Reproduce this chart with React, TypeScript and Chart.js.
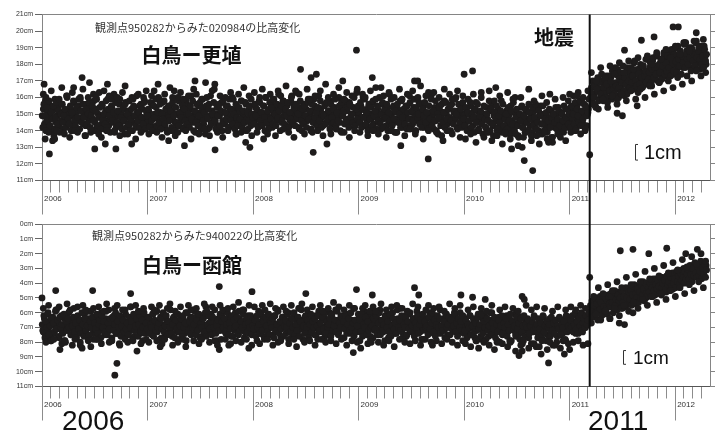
import React, { useEffect, useRef } from 'react';
import { Chart, registerables } from 'chart.js';

Chart.register(...registerables);

// ---------- axis definitions ----------
const X_MIN = 2006;
const X_MAX = 2012.33;
const QUAKE = 2011.19; // 2011-03-11
const YEAR_TICKS = [2006, 2007, 2008, 2009, 2010, 2011, 2012];
const MONTH_TICKS: number[] = [];
YEAR_TICKS.forEach((y) => {
  for (let m = 0; m < 12; m++) {
    const v = y + m / 12;
    if (v <= X_MAX) MONTH_TICKS.push(v);
  }
});
const TOP_Y_TICKS = [11, 12, 13, 14, 15, 16, 17, 18, 19, 20, 21];
const BOT_Y_TICKS = [0, 1, 2, 3, 4, 5, 6, 7, 8, 9, 10, 11];

// time ranges of the regular sample blocks (decimal years)
const PRE_RANGES = [
  [2006, 2007], [2007, 2008], [2008, 2009], [2009, 2010], [2010, 2011], [2011, 2011.185],
];
const POST_RANGE = [2011.195, 2012.3];

// ---------- top panel (白鳥ー更埴), cm ----------
const top2006 = [
  14.9,15.3,14.4,15.8,14.6,15.1,14.2,15.5,14.8,14.0,15.2,14.7,15.9,14.5,14.9,15.4,14.3,15.0,14.6,15.6,
  14.1,15.2,14.8,16.1,14.5,15.0,14.4,15.3,14.9,14.2,15.7,14.7,15.1,14.0,15.5,14.6,16.0,14.8,15.2,14.4,
  15.0,14.3,15.6,14.9,14.6,15.4,13.9,15.1,14.7,15.8,14.5,15.3,14.2,15.0,16.3,14.8,14.4,15.5,14.9,14.1,
  15.2,14.6,15.9,14.3,15.0,14.7,15.4,14.5,16.2,14.8,14.2,15.1,14.9,15.6,14.4,15.0,14.6,15.3,13.8,15.7,
  14.8,15.2,14.3,15.0,14.7,16.0,14.5,15.4,14.9,14.2,15.1,14.6,15.5,14.8,14.0,15.3,14.7,15.8,14.4,15.0,
];
const top2006b = [
  14.2,15.6,14.9,14.0,15.4,14.6,15.8,14.3,15.1,14.7,15.5,14.1,14.8,15.7,14.4,15.2,13.9,15.0,15.6,14.5,
  14.9,15.3,14.2,16.0,14.7,14.4,15.5,14.0,15.1,15.8,14.6,14.3,15.4,14.8,15.9,14.1,15.2,14.5,15.6,14.8,
  13.7,15.3,14.4,15.0,15.7,14.2,14.9,15.5,14.6,14.0,15.2,15.9,14.3,14.8,15.4,14.1,15.6,14.7,15.0,14.4,
  15.8,14.2,15.3,14.9,13.9,15.5,14.6,15.1,14.0,15.7,14.5,15.2,14.3,15.9,14.8,14.1,15.4,14.6,15.6,14.2,
  15.0,14.4,15.8,14.7,15.3,14.0,15.5,14.9,14.3,16.1,14.6,15.1,14.2,15.6,14.8,14.4,15.7,14.1,15.2,14.9,
];
const top2006f = [
  16.2,16.0,13.9,16.4,13.7,14.0,15.9,16.6,13.8,16.1,13.6,16.3,14.0,13.9,15.9,16.5,13.7,16.0,14.1,16.2,
  16.0,13.8,13.6,16.4,14.0,16.1,15.9,13.9,16.0,13.7,16.3,16.7,13.8,14.0,15.9,13.5,16.2,13.9,16.0,16.4,
];
const top2007 = [
  14.6,15.2,14.9,14.3,15.6,14.7,15.0,14.1,15.4,14.8,16.0,14.5,15.1,14.4,15.7,14.9,14.2,15.3,14.6,15.0,
  14.8,15.5,14.0,15.2,14.7,16.4,14.5,15.0,14.3,15.8,14.9,15.1,14.6,15.4,14.2,15.0,14.8,15.6,14.4,15.3,
  14.7,16.1,14.5,14.9,15.2,13.9,15.0,14.6,15.5,14.3,15.1,14.8,15.9,14.4,15.0,14.7,15.3,14.1,15.6,14.9,
  14.5,15.2,14.8,16.5,14.6,15.0,14.3,15.4,14.9,14.0,15.7,14.6,15.1,14.4,15.5,14.8,15.0,14.2,15.3,14.7,
  16.0,14.5,15.2,14.9,13.8,15.4,14.6,15.1,14.3,15.8,14.8,15.0,14.5,15.6,14.7,14.1,15.3,14.9,15.9,14.6,
];
const top2007b = [
  15.3,14.2,15.7,14.6,14.0,15.5,14.8,15.9,14.3,15.1,14.5,15.6,14.1,15.0,14.7,15.8,14.4,15.3,13.9,15.5,
  14.6,15.2,14.2,15.7,14.9,14.0,15.4,14.5,16.0,14.3,15.1,14.8,15.6,14.1,15.3,14.6,15.9,14.4,15.0,14.2,
  15.5,14.7,15.8,14.0,15.2,14.5,15.6,14.3,14.9,15.7,14.1,15.4,14.6,15.1,13.8,15.5,14.8,15.3,14.2,16.1,
  14.4,15.0,15.7,14.6,14.1,15.4,14.9,15.6,14.3,15.2,14.0,15.8,14.5,15.1,14.7,15.5,14.2,15.9,14.6,15.3,
  14.4,15.0,14.1,15.6,14.8,14.3,15.4,14.7,15.8,14.2,15.2,14.5,15.7,14.0,15.1,14.6,15.5,14.3,15.0,14.8,
];
const top2007f = [
  13.8,16.1,16.4,13.9,15.9,13.6,16.2,14.0,16.6,16.0,13.7,13.9,16.3,15.9,14.0,16.1,13.5,16.5,16.2,13.8,
  15.9,14.1,16.0,13.7,16.4,16.8,13.9,16.1,13.6,16.0,14.0,16.3,15.9,13.8,16.2,13.9,16.6,14.0,16.1,13.7,
];
const top2008 = [
  15.0,14.6,15.4,14.8,15.2,14.3,15.7,14.9,15.1,14.5,15.5,14.7,16.0,15.0,14.4,15.3,14.8,15.6,14.2,15.1,
  14.9,15.4,14.6,15.0,16.2,14.7,15.3,14.5,15.8,14.9,15.1,14.3,15.5,14.8,15.0,14.6,15.7,14.4,15.2,14.9,
  16.4,14.7,15.1,14.2,15.4,14.8,15.0,14.5,15.6,14.9,15.3,14.6,15.9,14.8,15.0,14.1,15.2,14.7,15.5,14.4,
  15.1,14.9,16.1,14.6,15.3,14.8,14.3,15.0,15.6,14.5,14.9,15.2,14.7,15.8,14.4,15.0,14.6,15.4,14.2,15.1,
  14.8,16.0,14.5,15.3,14.9,15.0,13.9,15.5,14.7,15.2,14.4,15.7,14.8,15.0,14.6,15.4,14.3,15.1,16.3,14.9,
];
const top2008b = [
  14.4,15.6,14.9,15.3,14.2,15.8,14.6,15.1,14.3,15.5,14.8,16.0,14.5,15.2,14.1,15.7,14.7,15.4,14.4,15.9,
  15.0,14.3,15.6,14.8,15.2,14.0,15.5,14.6,15.8,14.4,15.3,14.9,15.7,14.2,15.1,14.7,16.1,14.5,15.4,14.3,
  15.6,14.8,15.0,14.1,15.8,14.6,15.3,14.4,15.5,14.9,14.2,15.7,14.7,15.2,14.0,15.6,14.5,15.9,14.8,15.1,
  14.3,15.4,14.6,15.8,14.2,15.0,14.9,15.5,14.4,15.7,14.7,15.2,14.1,15.6,14.8,15.3,14.5,15.9,14.3,15.1,
  14.6,15.5,14.0,15.7,14.9,15.2,14.4,15.8,14.6,15.4,14.2,15.6,14.8,15.0,14.5,16.0,14.3,15.3,14.7,15.5,
];
const top2008f = [
  16.3,13.9,16.0,16.5,14.0,13.8,16.2,15.9,13.7,16.4,16.1,14.1,16.7,13.9,16.0,13.6,16.3,16.2,14.0,13.8,
  16.5,15.9,13.9,16.1,14.0,16.4,13.7,16.8,16.0,13.8,16.2,14.1,16.6,13.9,15.9,16.3,13.6,16.1,14.0,16.5,
];
const top2009 = [
  15.1,14.5,15.5,14.8,16.0,14.3,15.2,14.9,14.6,15.4,14.2,15.0,14.7,15.7,14.4,15.1,16.6,14.8,15.3,14.5,
  15.0,14.1,15.6,14.7,15.2,14.9,14.3,15.4,14.6,16.2,14.8,15.0,14.4,15.5,13.9,15.1,14.7,15.3,14.5,15.8,
  14.9,14.2,15.2,14.6,15.0,14.8,15.5,14.3,16.1,14.7,15.1,14.4,15.4,14.9,14.0,15.2,14.6,15.7,14.8,15.0,
  14.5,15.3,14.2,15.6,14.7,14.9,16.3,14.4,15.1,14.8,15.0,14.1,15.4,14.6,15.2,13.8,15.5,14.7,14.9,15.1,
  14.3,15.8,14.6,15.0,14.4,15.3,14.8,14.0,15.6,14.5,15.1,14.7,16.0,14.2,15.2,14.9,14.5,15.4,14.6,15.0,
];
const top2009b = [
  14.5,15.7,14.2,15.3,14.8,15.9,14.4,15.1,14.0,15.6,14.7,15.4,14.3,15.8,14.9,15.2,14.1,15.5,14.6,16.0,
  14.4,15.0,15.7,14.2,15.3,14.8,15.6,14.0,15.1,14.6,15.9,14.3,15.4,14.7,15.2,13.9,15.6,14.5,15.0,14.2,
  15.8,14.8,15.3,14.4,15.5,14.1,15.1,14.7,15.7,14.3,15.2,14.6,15.9,14.0,15.4,14.8,15.0,14.4,15.6,14.2,
  15.3,14.9,15.7,14.5,15.1,14.1,15.5,14.7,16.1,14.3,15.2,14.6,15.8,14.0,15.0,14.8,15.4,14.3,15.6,14.5,
  15.1,14.2,15.7,14.7,15.3,14.0,15.5,14.6,15.9,14.4,15.2,14.8,15.0,14.1,15.6,14.5,15.3,14.2,15.7,14.7,
];
const top2009f = [
  13.9,16.2,16.0,13.7,16.4,14.0,15.9,13.8,16.6,16.1,13.6,16.3,14.0,16.0,13.9,16.5,15.9,13.7,16.2,14.1,
  16.4,13.8,16.0,16.7,13.5,16.1,14.0,15.9,16.3,13.9,16.0,13.7,16.5,14.0,16.2,13.8,15.9,16.4,13.6,16.1,
];
const top2010 = [
  14.9,14.4,15.3,14.6,15.0,14.1,15.5,14.7,14.3,15.2,14.8,15.7,14.5,14.0,15.1,14.6,16.3,14.4,15.0,14.8,
  14.2,15.4,14.7,13.9,15.2,14.5,15.6,14.3,14.9,15.1,14.6,14.0,15.3,14.8,14.4,15.8,14.2,15.0,14.7,13.8,
  15.2,14.5,14.9,14.3,15.5,14.6,14.1,15.1,16.0,14.4,14.8,13.7,15.0,14.6,15.4,14.2,14.9,14.5,15.2,14.0,
  14.7,15.6,14.3,14.8,13.9,15.1,14.5,14.2,15.3,14.6,14.0,14.9,15.5,14.4,13.8,15.0,14.6,14.3,15.7,14.1,
  14.8,14.5,15.2,13.6,14.7,15.0,14.2,14.9,14.4,15.4,14.1,14.6,15.1,14.3,13.9,14.8,15.3,14.5,14.2,15.0,
];
const top2010b = [
  14.3,15.4,14.0,15.1,14.6,15.7,14.2,15.0,14.8,13.9,15.3,14.5,15.6,14.1,14.9,15.2,14.4,13.8,15.5,14.7,
  14.2,15.0,14.6,15.8,14.0,15.3,14.4,13.7,15.1,14.8,15.5,14.2,14.9,14.5,15.2,13.9,15.6,14.3,14.7,15.0,
  14.1,15.4,14.6,13.8,15.2,14.4,15.7,14.0,14.8,15.3,14.3,13.6,15.0,14.6,15.5,14.2,14.9,13.9,15.3,14.5,
  14.0,15.1,14.7,13.7,15.4,14.3,14.8,15.6,14.1,14.5,15.2,13.8,14.9,14.4,15.5,14.0,14.7,15.1,13.9,14.6,
  15.3,14.2,14.8,13.6,15.0,14.5,15.4,14.1,14.7,15.2,14.3,13.9,15.0,14.6,15.5,14.2,14.8,15.3,14.4,15.0,
];
const top2010f = [
  13.5,15.9,13.8,16.2,13.3,14.0,16.0,13.6,13.9,16.4,13.4,15.8,13.7,16.1,13.2,13.9,16.3,13.5,15.9,13.8,
  13.1,16.0,13.6,13.9,16.5,13.4,15.8,13.7,13.2,16.1,13.9,13.5,16.2,13.3,15.9,13.8,13.6,16.0,13.4,15.8,
];
const top2011pre = [
  14.6,15.1,14.3,15.4,14.8,14.0,15.2,14.6,15.6,14.4,15.0,14.7,15.8,14.5,15.1,14.9,15.5,14.3,15.0,15.3,
];
const top2011preB = [
  14.2,15.5,14.8,15.0,14.4,15.7,14.1,15.3,14.9,14.5,15.8,14.3,15.2,14.7,15.6,14.0,15.4,14.9,15.1,15.9,
];
const top2011preF = [13.9, 16.1, 14.0, 16.3, 13.8, 16.0, 14.1, 16.4];
const topAfter = [
  16.0,16.6,15.7,16.9,16.2,15.5,16.8,16.4,17.1,15.9,16.5,16.1,17.0,15.8,16.7,16.3,17.3,16.0,16.6,16.9,
  16.4,17.2,15.9,16.8,17.5,16.2,16.9,16.5,17.7,16.0,17.1,16.6,16.3,17.4,16.8,16.1,17.0,17.8,16.5,16.9,
  17.3,16.4,17.6,16.8,17.1,18.1,16.6,17.4,17.0,16.3,17.7,17.2,16.9,17.9,16.7,17.5,17.1,18.3,16.8,17.4,
  17.0,17.8,17.3,16.7,18.2,17.5,17.9,17.1,18.5,17.4,17.7,16.9,18.1,17.6,17.2,18.4,17.8,17.3,18.0,17.5,
  18.2,17.6,18.7,17.9,18.3,17.4,18.9,18.0,18.5,17.7,19.1,18.2,17.9,18.6,18.3,17.8,19.3,18.4,18.0,18.8,
  18.5,17.9,18.8,18.2,19.0,18.4,17.8,18.7,18.3,19.4,18.1,18.6,18.9,17.7,18.4,18.8,18.2,19.1,18.5,18.0,
];
const topAfterB = [
  16.3,15.6,17.0,16.0,16.7,15.4,16.5,17.2,15.8,16.9,16.2,17.4,15.9,16.6,17.1,16.0,16.8,15.7,17.3,16.4,
  17.0,16.1,17.6,16.5,16.2,17.8,16.7,15.9,17.3,16.6,17.5,16.3,16.9,17.9,16.4,17.2,16.8,16.2,17.6,17.0,
  16.6,17.8,16.9,17.3,16.5,18.2,17.0,16.7,17.7,17.4,16.8,18.0,17.2,16.6,17.9,17.3,17.6,16.9,18.3,17.1,
  17.5,18.1,16.9,17.7,18.4,17.2,17.8,17.4,18.6,17.0,18.0,17.5,18.3,17.1,17.9,18.7,17.4,18.1,17.6,18.5,
  17.8,18.4,17.3,18.9,18.1,17.6,18.6,18.2,17.5,19.0,18.3,17.9,18.8,17.4,18.5,18.1,19.2,17.8,18.6,18.3,
  18.0,19.0,18.4,17.6,18.9,18.2,18.6,17.9,19.3,18.4,17.7,18.8,18.3,19.1,18.0,18.5,17.8,18.9,18.2,18.6,
];
const topAfterF = [
  17.5,15.6,17.0,15.3,17.8,15.9,17.2,15.4,17.9,16.1,17.4,15.6,18.1,16.2,17.5,15.8,18.2,16.4,17.7,15.9,
  18.4,16.5,17.9,16.0,18.5,16.7,18.0,16.2,18.7,16.9,18.3,16.4,18.9,17.0,18.4,16.6,19.1,17.2,18.6,16.8,
  19.3,17.3,18.8,17.0,19.4,17.6,19.0,17.3,19.5,17.5,
];
// isolated dots: [decimal year, cm]
const topOutliers = [
  [2006.02, 16.8], [2006.07, 12.6], [2006.03, 13.5], [2006.1, 13.4], [2006.12, 13.5], [2006.38, 17.2],
  [2006.5, 12.9], [2006.7, 12.9], [2006.6, 13.2], [2006.85, 13.2], [2006.45, 16.9], [2006.62, 16.8],
  [2006.3, 16.6], [2007.1, 16.8], [2007.2, 13.4], [2007.35, 13.1], [2007.45, 17.0], [2007.55, 16.9],
  [2007.64, 12.85], [2007.97, 13.0], [2007.93, 13.3], [2008.1, 13.5], [2008.45, 17.7], [2008.57, 12.7],
  [2008.55, 17.2], [2008.6, 17.4], [2008.7, 13.2], [2008.98, 18.85], [2008.85, 17.0], [2009.13, 17.2],
  [2009.53, 17.0], [2009.56, 17.0], [2009.66, 12.3], [2009.4, 13.1], [2009.8, 13.4], [2010.0, 17.4],
  [2010.08, 17.6], [2010.3, 16.6], [2010.55, 13.0], [2010.65, 11.6], [2010.57, 12.2], [2010.45, 12.9],
  [2010.8, 13.3], [2011.0, 16.2], [2011.07, 16.1], [2011.19, 12.55], [2011.45, 15.05], [2011.5, 14.9],
  [2011.64, 15.5], [2011.52, 18.85], [2011.68, 19.45], [2011.8, 19.65], [2011.98, 20.25], [2012.03, 20.25],
  [2012.2, 19.9], [2012.1, 19.3],
];

// ---------- bottom panel (白鳥ー函館), cm ----------
const bot2006 = [
  6.8,7.3,6.4,7.6,6.9,6.1,7.2,6.6,7.9,6.7,6.3,7.4,6.9,5.8,7.1,6.5,7.7,6.8,6.2,7.3,
  7.0,6.4,8.0,6.7,7.2,6.0,6.9,7.5,6.6,7.1,5.7,6.8,7.4,6.3,7.0,6.9,8.2,6.5,7.2,6.7,
  6.1,7.3,6.8,7.6,6.4,7.0,5.9,6.9,7.4,6.6,7.1,6.3,7.8,6.8,6.5,7.2,6.0,7.0,6.7,7.5,
  6.4,6.9,7.3,5.8,7.1,6.6,7.7,6.8,6.2,7.0,7.4,6.5,6.9,8.1,6.7,7.2,6.3,6.8,7.5,6.1,
  7.0,6.6,7.3,6.9,5.6,7.1,6.4,7.6,6.8,7.2,6.5,7.0,6.2,7.4,6.7,7.9,6.9,6.3,7.1,6.8,
];
const bot2006b = [
  7.2,6.2,7.7,6.6,7.0,6.0,7.5,6.9,6.4,7.8,6.7,7.3,5.9,7.1,6.5,7.6,6.3,7.0,6.8,7.4,
  6.1,7.9,6.6,7.2,6.4,7.0,5.8,7.5,6.9,6.3,7.3,6.7,7.7,6.2,7.1,6.5,7.4,6.0,6.8,7.6,
  6.4,7.2,6.9,5.9,7.5,6.6,7.0,6.3,7.8,6.7,7.1,6.1,7.4,6.8,6.5,7.7,6.2,7.0,6.6,7.3,
  5.9,7.5,6.7,7.1,6.4,7.9,6.3,7.2,6.8,6.0,7.4,6.6,7.0,6.2,7.6,6.9,6.5,7.3,5.8,7.1,
  6.7,7.5,6.3,7.0,6.6,7.8,6.1,7.2,6.9,6.4,7.6,6.8,6.2,7.3,6.5,7.0,6.0,7.4,6.7,7.1,
];
const bot2006f = [
  5.7,8.0,5.5,7.9,7.8,5.8,5.6,8.1,7.9,5.4,5.9,8.2,7.8,5.6,8.0,5.5,5.8,7.9,8.3,5.7,
  7.8,5.6,8.1,5.9,5.4,8.0,7.9,5.7,5.5,8.2,5.8,7.8,8.0,5.6,7.9,5.5,5.9,8.1,5.7,7.8,
];
const bot2007 = [
  6.9,6.4,7.2,6.7,7.5,6.1,7.0,6.8,5.9,7.3,6.6,7.1,6.3,7.7,6.8,7.0,6.2,7.4,6.5,6.9,
  5.7,7.2,6.7,7.6,6.4,7.0,6.9,6.1,7.3,6.6,7.8,6.8,6.3,7.1,6.5,7.4,6.0,6.9,7.2,6.7,
  6.4,7.5,6.8,5.8,7.0,6.6,7.3,6.2,6.9,7.1,6.5,7.6,6.8,6.3,7.2,5.6,6.9,7.0,6.7,7.4,
  6.1,6.8,7.3,6.5,7.0,6.6,7.9,6.4,6.9,7.2,6.2,7.1,6.7,5.9,7.4,6.8,6.5,7.0,6.3,7.6,
  6.9,6.6,7.2,6.0,7.0,6.7,7.5,6.4,6.8,7.1,5.8,6.9,7.3,6.5,7.0,6.2,7.4,6.8,6.6,7.1,
];
const bot2007b = [
  6.3,7.4,6.8,7.0,6.1,7.6,6.5,7.2,5.9,7.0,6.7,7.8,6.4,7.1,6.0,7.3,6.9,6.2,7.5,6.6,
  7.0,5.8,7.4,6.8,6.3,7.7,6.5,7.1,6.1,7.3,6.9,6.4,7.6,6.2,7.0,6.7,7.9,6.0,7.2,6.6,
  7.4,6.3,7.0,6.8,5.9,7.5,6.5,7.2,6.1,7.7,6.7,7.0,6.4,7.3,6.0,7.6,6.8,6.2,7.1,6.6,
  7.5,6.3,7.0,5.8,7.4,6.9,6.5,7.2,6.1,7.8,6.6,7.0,6.4,7.3,6.8,6.0,7.5,6.7,7.1,6.2,
  7.6,6.5,7.0,6.9,6.3,7.4,5.9,7.2,6.6,7.0,6.1,7.7,6.8,6.4,7.3,6.7,7.0,6.2,7.5,6.9,
];
const bot2007f = [
  8.0,5.6,5.8,7.9,5.5,8.1,7.8,5.7,5.4,8.2,5.9,8.0,5.6,7.8,8.3,5.5,5.8,7.9,5.7,8.1,
  7.8,5.4,5.9,8.0,5.6,7.9,8.2,5.5,5.8,7.8,5.7,8.1,5.6,7.9,5.3,8.0,5.8,7.8,5.5,8.2,
];
const bot2008 = [
  6.7,7.2,6.4,7.0,6.9,5.9,7.4,6.6,7.1,6.3,7.6,6.8,6.5,7.2,6.1,6.9,7.0,6.4,7.5,6.7,
  6.2,7.3,6.8,5.8,7.1,6.6,7.7,6.9,6.3,7.0,6.5,7.4,6.7,6.0,7.2,6.8,6.4,7.6,6.9,6.2,
  7.1,6.6,7.3,5.7,6.9,7.0,6.5,7.8,6.7,6.3,7.2,6.8,6.1,7.4,6.6,7.0,6.4,6.9,7.5,6.2,
  6.8,7.1,5.9,6.7,7.3,6.5,7.0,6.3,7.6,6.9,6.6,7.2,6.0,6.8,7.4,6.4,7.0,6.7,5.8,7.1,
  6.5,7.3,6.9,6.2,7.0,6.6,7.7,6.4,6.8,7.2,6.1,6.9,7.4,6.5,7.0,5.7,6.8,7.3,6.6,7.1,
];
const bot2008b = [
  7.1,6.5,7.6,6.2,7.0,6.8,7.4,6.0,7.2,6.6,7.8,6.3,6.9,7.3,6.1,7.5,6.7,7.0,6.4,7.7,
  6.2,7.2,6.8,5.9,7.4,6.6,7.1,6.3,7.6,6.9,6.5,7.0,6.1,7.8,6.7,7.3,6.4,7.0,6.0,7.5,
  6.8,7.2,6.3,7.6,6.6,5.8,7.1,6.9,7.4,6.2,7.0,6.5,7.7,6.8,6.1,7.3,6.6,7.0,6.4,7.5,
  6.9,6.2,7.2,6.7,7.8,6.3,7.1,6.0,7.4,6.6,7.0,6.8,6.4,7.6,6.1,7.2,6.9,6.5,7.3,5.9,
  7.5,6.7,7.0,6.3,7.7,6.6,7.1,6.2,7.4,6.8,6.4,7.2,6.0,7.0,6.7,7.6,6.5,7.3,6.9,6.1,
];
const bot2008f = [
  5.6,7.9,8.1,5.5,5.8,7.8,5.4,8.2,5.7,8.0,7.9,5.6,5.9,8.1,5.5,7.8,8.3,5.7,5.4,8.0,
  5.8,7.9,5.6,8.2,7.8,5.5,5.9,8.0,5.7,7.9,5.3,8.1,5.6,7.8,5.8,8.2,5.5,7.9,5.7,8.0,
];
const bot2009 = [
  6.8,6.3,7.3,6.6,7.0,5.9,7.4,6.7,7.1,6.2,6.9,7.6,6.5,7.0,6.1,7.2,6.8,6.4,7.5,6.7,
  5.8,7.1,6.6,7.3,6.9,6.2,7.0,6.5,7.7,6.8,6.3,7.2,6.0,6.9,7.4,6.6,7.0,6.4,7.1,5.7,
  6.8,7.3,6.5,7.0,6.2,7.6,6.7,6.9,6.1,7.2,6.6,7.0,6.4,7.4,6.8,5.9,7.1,6.5,7.3,6.9,
  6.3,7.0,6.7,7.8,6.4,6.9,7.2,6.0,6.8,7.1,6.6,7.4,6.2,7.0,6.7,6.5,7.3,5.8,6.9,7.0,
  6.4,7.2,6.8,6.1,7.5,6.6,7.0,6.3,6.9,7.2,6.7,6.2,7.1,6.5,7.4,6.8,6.0,7.0,6.6,7.3,
];
const bot2009b = [
  6.5,7.3,6.1,7.6,6.8,7.0,6.3,7.5,6.6,7.2,5.9,7.0,6.9,7.7,6.4,7.1,6.2,7.4,6.7,6.0,
  7.5,6.5,7.2,6.8,7.9,6.3,7.0,6.6,7.3,6.1,7.6,6.9,6.4,7.1,6.7,7.4,5.8,7.0,6.5,7.2,
  6.2,7.7,6.8,7.0,6.3,7.5,6.6,7.1,6.0,7.3,6.9,6.4,7.6,6.7,7.0,6.2,7.4,6.8,6.5,7.8,
  6.1,7.2,6.6,7.0,6.9,7.5,6.3,7.1,6.7,6.0,7.3,6.5,7.6,6.8,6.2,7.0,6.4,7.4,6.9,7.2,
  6.6,7.7,6.1,7.0,6.8,6.3,7.5,6.5,7.1,6.9,6.0,7.3,6.7,7.6,6.4,7.0,6.6,7.2,6.2,7.4,
];
const bot2009f = [
  7.9,5.7,5.5,8.1,7.8,5.6,5.9,8.0,5.4,8.2,5.8,7.9,5.6,8.3,5.5,7.8,5.7,8.0,5.9,8.1,
  5.4,7.9,5.6,8.2,7.8,5.8,5.5,8.0,5.7,7.9,5.6,8.1,5.9,7.8,5.4,8.0,5.7,8.2,5.5,7.9,
];
const bot2010 = [
  6.9,6.4,7.4,6.7,7.1,6.2,7.5,6.8,7.0,6.5,7.7,6.6,7.2,6.1,7.0,6.9,7.8,6.4,7.3,6.7,
  6.3,7.1,6.8,7.6,6.5,7.0,6.0,7.4,6.9,7.2,6.6,8.0,6.8,6.3,7.1,6.7,7.5,6.4,7.0,6.9,
  6.2,7.3,6.8,7.9,6.5,7.0,6.7,7.2,6.1,7.6,6.9,6.6,7.4,6.3,7.0,8.1,6.8,7.2,6.5,7.0,
  6.4,7.7,6.9,7.1,6.6,7.3,6.2,7.0,8.3,6.8,7.4,6.5,7.0,6.7,7.8,6.3,7.2,6.9,6.6,7.5,
  7.0,6.4,7.3,6.8,8.2,6.6,7.1,6.5,7.6,6.9,6.3,7.2,6.8,7.4,6.5,7.0,7.9,6.7,6.4,7.1,
];
const bot2010b = [
  7.2,6.5,7.7,6.8,7.0,6.2,7.5,6.9,6.4,7.3,6.7,7.9,6.3,7.1,6.8,7.6,6.1,7.4,6.6,7.0,
  7.8,6.4,7.2,6.9,6.0,7.5,6.7,7.1,6.3,7.7,6.8,7.3,6.5,8.0,6.9,6.2,7.4,6.7,7.0,6.4,
  7.6,6.8,7.2,6.1,7.9,6.6,7.0,6.9,7.5,6.3,7.1,6.7,7.8,6.4,7.3,6.9,6.2,7.6,6.8,7.0,
  6.5,7.4,6.9,8.1,6.6,7.2,6.3,7.0,6.8,7.7,6.4,7.1,6.7,7.5,6.2,7.3,6.9,7.9,6.6,7.0,
  6.8,7.6,6.3,7.2,6.7,7.4,6.5,8.0,6.9,7.1,6.4,7.5,6.8,7.0,6.6,7.8,6.2,7.3,6.9,7.1,
];
const bot2010f = [
  8.1,5.8,8.3,5.6,7.9,8.4,5.7,8.0,5.9,8.2,5.5,8.5,7.9,5.8,8.1,5.6,8.3,8.0,5.7,8.6,
  5.9,8.2,7.9,5.5,8.4,5.8,8.1,5.6,8.3,7.9,5.7,8.5,8.0,5.9,8.2,5.6,8.4,7.9,5.8,8.1,
];
const bot2011pre = [
  6.8,6.3,7.2,6.6,7.0,6.1,7.4,6.7,6.4,7.1,6.5,6.9,6.0,7.3,6.6,6.2,7.0,6.5,6.8,6.3,
];
const bot2011preB = [
  6.5,7.0,6.2,7.3,6.8,6.0,7.1,6.6,7.4,6.3,6.9,6.1,7.2,6.7,6.4,7.0,6.2,6.8,6.5,6.0,
];
const bot2011preF = [5.6, 8.0, 5.8, 7.9, 5.5, 8.2, 5.7, 8.1];
const botAfter = [
  5.5,6.0,5.2,5.8,5.4,6.2,5.0,5.7,5.3,5.9,4.9,5.6,5.2,6.1,5.4,5.0,5.8,5.3,4.8,5.5,
  5.2,4.7,5.6,5.0,5.4,4.5,5.8,5.1,4.9,5.5,4.6,5.3,5.0,5.7,4.4,5.2,4.9,5.5,4.7,5.1,
  4.8,4.3,5.2,4.6,5.0,4.1,4.7,5.4,4.4,4.9,4.2,4.8,4.5,5.1,3.9,4.6,4.3,5.0,4.4,4.7,
  4.3,3.8,4.6,4.1,4.9,4.0,4.4,3.7,4.7,4.2,3.9,4.5,4.0,4.8,3.6,4.3,4.1,3.8,4.6,4.0,
  3.7,4.2,3.4,4.0,3.8,4.4,3.5,3.9,3.3,4.1,3.6,3.2,3.9,3.5,4.0,3.4,3.0,3.7,3.3,3.8,
  3.4,2.9,3.6,3.2,3.8,3.0,3.5,2.7,3.3,3.1,2.8,3.4,3.0,3.6,2.6,3.2,2.9,3.5,3.1,2.8,
];
const botAfterB = [
  5.9,5.2,6.3,5.5,5.0,6.0,5.4,6.5,5.1,5.8,5.3,6.2,4.8,5.6,5.9,5.0,5.7,6.1,4.9,5.4,
  5.6,4.9,5.3,6.0,4.6,5.5,5.1,5.8,4.8,5.2,5.0,5.7,4.5,5.3,4.9,5.6,4.3,5.0,5.4,4.6,
  5.1,4.5,5.5,4.8,4.2,5.2,4.7,5.0,4.4,5.3,4.6,5.0,4.1,4.8,4.4,5.2,4.0,4.7,4.9,4.3,
  4.6,4.0,4.9,4.3,3.7,4.5,4.8,4.1,4.4,3.8,4.2,4.7,3.6,4.3,4.0,4.6,3.8,4.4,3.5,4.1,
  3.9,4.5,3.6,4.2,3.3,4.0,3.7,4.3,3.2,3.9,3.5,4.1,3.3,3.8,3.1,3.6,4.0,3.2,3.7,3.4,
  3.1,3.7,2.8,3.4,3.9,3.0,3.5,2.6,3.3,3.6,2.9,3.5,3.2,2.5,3.7,3.0,3.4,2.7,3.6,3.1,
];
const botAfterF = [
  6.7,4.9,6.1,4.3,6.5,4.7,5.9,4.1,6.4,4.5,5.7,3.9,6.2,4.3,5.5,3.6,5.9,4.1,5.3,3.4,
  5.7,3.9,5.1,3.2,5.5,3.7,4.9,3.0,5.3,3.5,4.7,2.8,5.1,3.3,4.5,2.6,4.9,3.1,4.3,2.4,
  4.7,2.9,4.1,2.2,4.5,2.7,3.9,2.0,4.3,2.5,
];
const botOutliers = [
  [2006.0, 5.0], [2006.13, 4.5], [2006.48, 4.5], [2006.84, 4.7], [2007.68, 4.23], [2007.99, 4.57],
  [2008.5, 4.7], [2008.98, 4.43], [2009.13, 4.8], [2009.53, 4.3], [2009.57, 4.8], [2009.97, 4.8],
  [2010.08, 4.95], [2010.2, 5.1], [2010.57, 5.1], [2010.55, 4.9],
  [2006.69, 10.23], [2006.71, 9.43], [2006.17, 8.5], [2006.38, 8.4], [2006.9, 8.6], [2007.12, 8.3],
  [2007.68, 8.5], [2007.77, 8.2], [2007.96, 8.4], [2008.95, 8.7], [2009.02, 8.4], [2009.12, 8.0],
  [2009.7, 8.2], [2010.52, 8.9], [2010.55, 8.6], [2010.8, 9.4], [2010.73, 8.8], [2010.95, 8.8],
  [2011.0, 8.5], [2011.19, 3.6], [2011.48, 1.8], [2011.6, 1.7], [2011.92, 1.63], [2012.21, 1.7],
  [2011.38, 6.4], [2011.47, 6.7], [2011.52, 6.8], [2011.6, 6.0], [2011.75, 2.0], [2012.1, 2.0],
];

// ---------- helpers ----------
function spread(vals: number[], range: number[], phase: number) {
  const step = (range[1] - range[0]) / vals.length;
  return vals.map((v, i) => ({ x: range[0] + (i + phase) * step, y: v }));
}
function buildPoints(
  preA: number[][], preB: number[][], preF: number[][],
  afterA: number[], afterB: number[], afterF: number[], outliers: number[][],
) {
  const pts: { x: number; y: number }[] = [];
  preA.forEach((vals, k) => pts.push(...spread(vals, PRE_RANGES[k], 0.25)));
  preB.forEach((vals, k) => pts.push(...spread(vals, PRE_RANGES[k], 0.75)));
  preF.forEach((vals, k) => pts.push(...spread(vals, PRE_RANGES[k], 0.5)));
  pts.push(...spread(afterA, POST_RANGE, 0.25));
  pts.push(...spread(afterB, POST_RANGE, 0.75));
  pts.push(...spread(afterF, POST_RANGE, 0.5));
  outliers.forEach(([x, y]) => pts.push({ x, y }));
  return pts;
}

const LATIN = '"Liberation Sans", Arial, sans-serif';
const JP = '"Noto Sans CJK JP", sans-serif';
const DOT = '#1e1c1c';
const AXIS = '#858585';

type Panel = {
  id: string;
  points: { x: number; y: number }[];
  yMin: number;
  yMax: number;
  reverse: boolean;
  yTicks: number[];
  padTop: number;
  xAxisHeight: number;
  draw: (chart: any) => void;
};

function drawBracket(ctx: CanvasRenderingContext2D, x: number, y1: number, y2: number) {
  ctx.save();
  ctx.strokeStyle = '#333';
  ctx.lineWidth = 1;
  ctx.beginPath();
  ctx.moveTo(x + 3, y1 + 0.5);
  ctx.lineTo(x + 0.5, y1 + 0.5);
  ctx.lineTo(x + 0.5, y2 - 0.5);
  ctx.lineTo(x + 3, y2 - 0.5);
  ctx.stroke();
  ctx.restore();
}

function text(ctx: CanvasRenderingContext2D, s: string, x: number, y: number, font: string, align: CanvasTextAlign, baseline: CanvasTextBaseline, color = '#111') {
  ctx.save();
  ctx.font = font;
  ctx.fillStyle = color;
  ctx.textAlign = align;
  ctx.textBaseline = baseline;
  ctx.fillText(s, x, y);
  ctx.restore();
}

function buildConfig(p: Panel): any {
  const tickList = (vals: number[]) => (s: any) => {
    s.ticks = vals.map((v) => ({ value: v }));
  };
  return {
    type: 'scatter',
    data: {
      datasets: [
        {
          data: p.points,
          xAxisID: 'x',
          yAxisID: 'y',
          pointRadius: 3.4,
          pointBackgroundColor: DOT,
          pointBorderWidth: 0,
          clip: false,
        },
      ],
    },
    options: {
      responsive: false,
      animation: false,
      events: [],
      layout: { padding: { top: p.padTop, left: 0, right: 0, bottom: 0 } },
      plugins: { legend: { display: false }, tooltip: { enabled: false } },
      scales: {
        x: {
          type: 'linear',
          position: 'bottom',
          min: X_MIN,
          max: X_MAX,
          weight: 1,
          afterBuildTicks: tickList(YEAR_TICKS),
          afterFit: (s: any) => {
            s.height = p.xAxisHeight;
          },
          grid: { drawOnChartArea: false, tickLength: 34, tickColor: '#8c8c8c', tickWidth: 1 },
          border: { display: true, color: '#555', width: 1 },
          ticks: {
            autoSkip: false,
            maxRotation: 0,
            minRotation: 0,
            align: 'start',
            labelOffset: 2,
            padding: -21,
            color: '#333',
            font: { size: 8, family: LATIN },
            callback: (v: number) => String(v),
          },
        },
        xm: {
          type: 'linear',
          position: 'bottom',
          min: X_MIN,
          max: X_MAX,
          weight: 0,
          afterBuildTicks: tickList(MONTH_TICKS),
          afterFit: (s: any) => {
            s.height = 0;
          },
          grid: { drawOnChartArea: false, tickLength: 12, tickColor: '#8c8c8c', tickWidth: 1 },
          border: { display: false },
          ticks: { display: false, autoSkip: false },
        },
        xt: {
          type: 'linear',
          position: 'top',
          min: X_MIN,
          max: X_MAX,
          afterFit: (s: any) => {
            s.height = 0;
          },
          grid: { display: false, drawTicks: false },
          border: { display: true, color: AXIS, width: 1 },
          ticks: { display: false },
        },
        y: {
          type: 'linear',
          position: 'left',
          min: p.yMin,
          max: p.yMax,
          reverse: p.reverse,
          afterBuildTicks: tickList(p.yTicks),
          afterFit: (s: any) => {
            s.width = 42;
          },
          grid: { drawOnChartArea: false, tickLength: 7, tickColor: '#666', tickWidth: 1 },
          border: { display: true, color: AXIS, width: 1 },
          ticks: {
            padding: 2,
            color: '#333',
            font: { size: 7, family: LATIN },
            callback: (v: number) => v + 'cm',
          },
        },
        y2: {
          type: 'linear',
          position: 'right',
          min: p.yMin,
          max: p.yMax,
          reverse: p.reverse,
          afterBuildTicks: tickList(p.yTicks),
          afterFit: (s: any) => {
            s.width = 10;
          },
          grid: { drawOnChartArea: false, tickLength: 5, tickColor: AXIS, tickWidth: 1 },
          border: { display: true, color: AXIS, width: 1 },
          ticks: { display: false },
        },
      },
    },
    plugins: [
      {
        id: 'annot_' + p.id,
        afterDraw: (chart: any) => p.draw(chart),
      },
    ],
  };
}

const TOP_H = 218;
const BOT_H = 214;

const topPanel: Panel = {
  id: 'top',
  points: buildPoints(
    [top2006, top2007, top2008, top2009, top2010, top2011pre],
    [top2006b, top2007b, top2008b, top2009b, top2010b, top2011preB],
    [top2006f, top2007f, top2008f, top2009f, top2010f, top2011preF],
    topAfter,
    topAfterB,
    topAfterF,
    topOutliers,
  ),
  yMin: 11,
  yMax: 21,
  reverse: false,
  yTicks: TOP_Y_TICKS,
  padTop: 14.5,
  xAxisHeight: TOP_H - 180.5,
  draw: (chart) => {
    const { ctx, chartArea, scales } = chart;
    const qx = scales.x.getPixelForValue(QUAKE);
    ctx.save();
    ctx.strokeStyle = '#111';
    ctx.lineWidth = 2;
    ctx.beginPath();
    ctx.moveTo(qx, chartArea.top);
    ctx.lineTo(qx, TOP_H);
    ctx.stroke();
    ctx.restore();
    text(ctx, '観測点950282からみた020984の比高変化', 95, 28, `11px ${JP}`, 'left', 'middle', '#333');
    text(ctx, '白鳥ー更埴', 191.5, 55, `bold 20px ${JP}`, 'center', 'middle');
    text(ctx, '地震', 554, 37, `bold 20px ${JP}`, 'center', 'middle');
    const y1 = scales.y.getPixelForValue(13.2);
    const y2 = scales.y.getPixelForValue(12.2);
    drawBracket(ctx, 635, y1, y2);
    text(ctx, '1cm', 644, (y1 + y2) / 2 + 1, `20px ${LATIN}`, 'left', 'middle');
  },
};

const botPanel: Panel = {
  id: 'bot',
  points: buildPoints(
    [bot2006, bot2007, bot2008, bot2009, bot2010, bot2011pre],
    [bot2006b, bot2007b, bot2008b, bot2009b, bot2010b, bot2011preB],
    [bot2006f, bot2007f, bot2008f, bot2009f, bot2010f, bot2011preF],
    botAfter,
    botAfterB,
    botAfterF,
    botOutliers,
  ),
  yMin: 0,
  yMax: 11,
  reverse: true,
  yTicks: BOT_Y_TICKS,
  padTop: 3.5,
  xAxisHeight: BOT_H - 168.5,
  draw: (chart) => {
    const { ctx, chartArea, scales } = chart;
    const qx = scales.x.getPixelForValue(QUAKE);
    ctx.save();
    ctx.strokeStyle = '#111';
    ctx.lineWidth = 2;
    ctx.beginPath();
    ctx.moveTo(qx, 0);
    ctx.lineTo(qx, chartArea.bottom);
    ctx.stroke();
    ctx.restore();
    text(ctx, '観測点950282からみた940022の比高変化', 92, 18, `11px ${JP}`, 'left', 'middle', '#333');
    text(ctx, '白鳥ー函館', 192, 47, `bold 20px ${JP}`, 'center', 'middle');
    const y1 = scales.y.getPixelForValue(8.53);
    const y2 = scales.y.getPixelForValue(9.53);
    drawBracket(ctx, 623, y1, y2);
    text(ctx, '1cm', 633, (y1 + y2) / 2 + 1, `19px ${LATIN}`, 'left', 'middle');
    text(ctx, '2006', 62, 212, `28px ${LATIN}`, 'left', 'alphabetic');
    text(ctx, '2011', 588, 212, `28px ${LATIN}`, 'left', 'alphabetic');
  },
};

export default function App() {
  const topRef = useRef<HTMLCanvasElement>(null);
  const botRef = useRef<HTMLCanvasElement>(null);
  useEffect(() => {
    document.body.style.margin = '0';
    const c1 = new Chart(topRef.current as HTMLCanvasElement, buildConfig(topPanel));
    const c2 = new Chart(botRef.current as HTMLCanvasElement, buildConfig(botPanel));
    return () => {
      c1.destroy();
      c2.destroy();
    };
  }, []);
  return (
    <div style={{ position: 'relative', width: 720, height: 432, background: '#fff' }}>
      <canvas
        ref={topRef}
        width={720}
        height={TOP_H}
        style={{ position: 'absolute', left: 0, top: 0, width: 720, height: TOP_H }}
      />
      <canvas
        ref={botRef}
        width={720}
        height={BOT_H}
        style={{ position: 'absolute', left: 0, top: TOP_H, width: 720, height: BOT_H }}
      />
    </div>
  );
}
